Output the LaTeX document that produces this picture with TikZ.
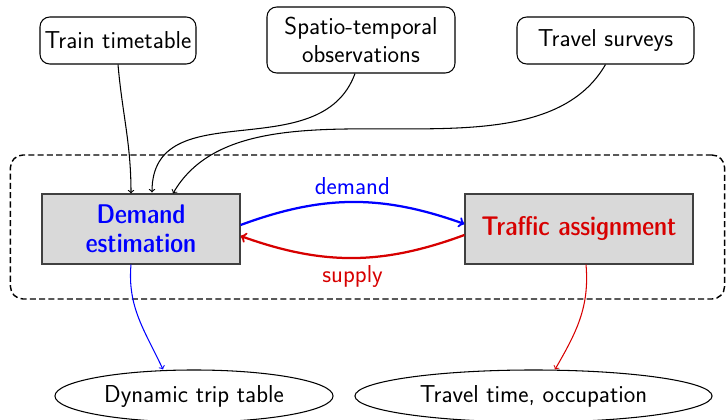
\documentclass[tikz,border=0pt]{standalone}
\usetikzlibrary{shapes.geometric,calc}
\definecolor{myred}{RGB}{215,0,0}
\begin{document}
\begin{tikzpicture}[x=0.025cm,y=-0.025cm, font=\sffamily\fontsize{17.4}{19.5}\selectfont,
  src/.style={draw,line width=0.75pt,rounded corners=7pt,align=center,inner sep=2pt},
  proc/.style={draw=black!75,line width=0.8pt,fill=black!15,minimum height=1.75cm,align=center,font=\sffamily\fontsize{19.2}{21}\fontseries{sbc}\selectfont},
  res/.style={draw,line width=0.75pt,ellipse,minimum height=1.3cm,inner sep=0pt},
  feed/.style={->,line width=0.75pt},
  link/.style={->,line width=1.6pt},
  frame/.style={draw,dash pattern=on 4.3pt off 2.3pt,line width=1pt,rounded corners=9pt}
  ]
\useasboundingbox (0,0) rectangle (726,420);
\node[frame,minimum width=17.85cm,minimum height=3.6cm] (fr) at (367.5,227) {};
\node[src,minimum width=3.9cm,minimum height=1.175cm] (tt) at (118,40.5) {Train timetable};
\node[src,minimum width=4.7cm,minimum height=1.65cm] (st) at (361,40) {Spatio-temporal\\observations};
\node[src,minimum width=4.425cm,minimum height=1.175cm] (ts) at (605.5,40.5) {Travel surveys};
\node[proc,text=blue,minimum width=4.95cm] (de) at (141,229) {Demand\\estimation};
\node[proc,text=myred,minimum width=5.7cm] (ta) at (579,229) {Traffic assignment};
\node[res,minimum width=6.95cm] (dt) at (194,396) {Dynamic trip table};
\node[res,minimum width=8.925cm] (to) at (533.5,396) {Travel time, occupation};
\coordinate (e1) at ($(de.north)+(-10,0)$);
\coordinate (e2) at ($(de.north)+(11,0)$);
\coordinate (e3) at ($(de.north)+(32,0)$);
\draw[feed] (tt.south) to[out=-85,in=90] (e1);
\draw[feed] ($(st.south)+(-6,0)$) to[out=-110,in=90,looseness=1.1] ($(e2)+(0,-1)$);
\draw[feed] (ts.south) to[out=-120,in=60,looseness=0.85] (e3);
\draw[link,blue] ($(de.east)+(0,-4)$) to[bend left=20] node[midway,above=1pt] {demand} ($(ta.west)+(0,-5)$);
\draw[link,myred] ($(ta.west)+(0,6)$) to[bend left=20] node[midway,below=1pt] {supply} ($(de.east)+(0,7)$);
\draw[->,blue,line width=0.75pt] ($(de.south)+(-10,0)$) to[out=-95,in=115] ($(dt.north)+(-31,0)$);
\draw[->,myred,line width=0.75pt] ($(ta.south)+(7,0)$) to[out=-85,in=60] ($(to.north)+(21.5,0)$);
\end{tikzpicture}
\end{document}
